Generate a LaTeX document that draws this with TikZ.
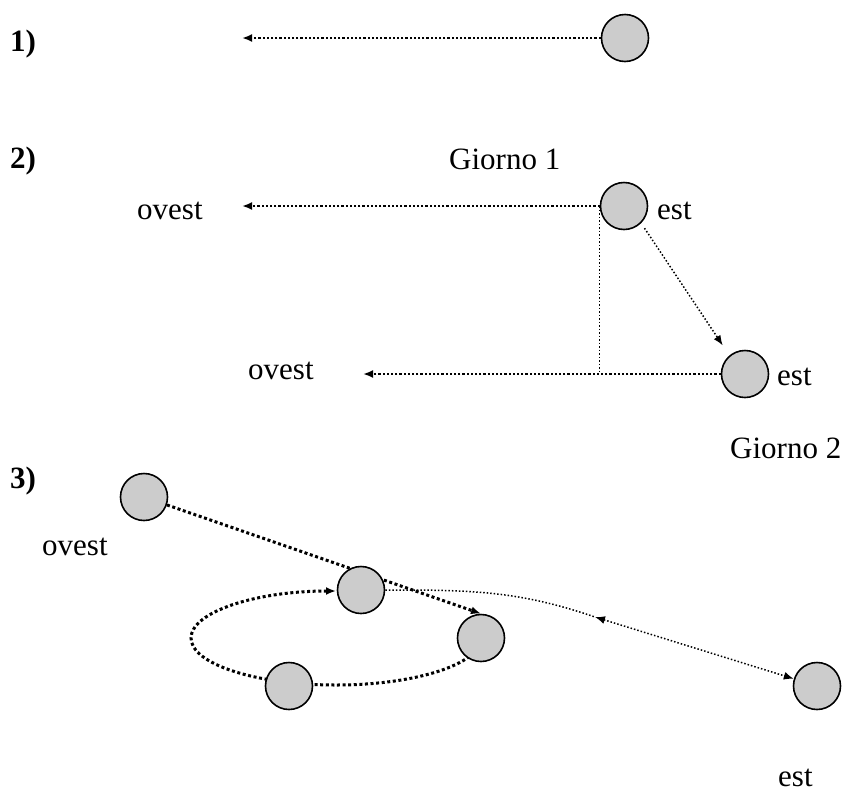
\documentclass[tikz,border=0pt]{standalone}
\usepackage{fontspec}
\setmainfont{Liberation Serif}
\usetikzlibrary{arrows.meta,backgrounds}
\definecolor{ballgray}{RGB}{204,204,204}

\begin{document}
\begin{tikzpicture}[>={Latex[length=10pt,width=8pt]},x=1pt,y=1pt,
  ball/.style={circle,draw,line width=1.6pt,fill=ballgray,minimum size=47pt,inner sep=0pt},
  lab/.style={font=\fontsize{31}{36}\selectfont,anchor=base west,inner sep=0pt},
  num/.style={lab,font=\fontsize{31}{36}\selectfont\bfseries},
  dots/.style={line width=2.2pt,dash pattern=on 2.2pt off 2pt},
  bigdots/.style={line width=3pt,dash pattern=on 3pt off 2.6pt},
  finedots/.style={line width=1.5pt,dash pattern=on 1.5pt off 2pt}]
  \useasboundingbox (0,0) rectangle (844,-796);
  % Case 1
  \node[num] (n1) at (10,-51) {1)};
  \node[ball] (c1) at (625,-38) {};
  \coordinate (w1) at (242,-38);
  \draw[dots,->] (c1) -- (w1);
  % Case 2: day 1 and day 2
  \node[num] (n2) at (10,-168) {2)};
  \node[lab] (g1) at (449,-169) {Giorno 1};
  \node[ball] (c2) at (624,-206) {};
  \node[lab] (e2) at (657,-219) {est};
  \node[lab] (o2) at (137,-219) {ovest};
  \coordinate (w2) at (242,-206);
  \draw[dots,->] (c2) -- (w2);
  \node[ball] (c3) at (745,-374) {};
  \node[lab] (e3) at (777,-385) {est};
  \node[lab] (o3) at (248,-379) {ovest};
  \coordinate (w3) at (363,-374);
  \draw[dots,->] (c3) -- (w3);
  \draw[finedots] (c2.west) -- (c2.west |- c3.west);
  \draw[finedots,->,shorten <=6pt,shorten >=12pt] (c2.-45) -- (c3.130);
  \node[lab] (g2) at (730,-458) {Giorno 2};
  % Case 3
  \node[num] (n3) at (10,-488) {3)};
  \node[ball] (a) at (144,-497) {};
  \node[lab] (o4) at (42,-555) {ovest};
  \node[ball] (b) at (361,-590) {};
  \node[ball] (d) at (481,-638) {};
  \node[ball] (c) at (289,-686) {};
  \node[ball] (e) at (817,-686) {};
  \node[lab] (e4) at (778,-786) {est};
  \coordinate (m) at (595,-617);
  \begin{scope}[on background layer]
    \draw[bigdots,->] (a) -- (d.north);
    \draw[bigdots,->] (d.center) arc[start angle=0,end angle=-270,x radius=145,y radius=47];
    \draw[finedots] (b.east) to[out=0,in=161] (m);
    \draw[finedots,<->] (m) -- (e);
  \end{scope}
\end{tikzpicture}
\end{document}
